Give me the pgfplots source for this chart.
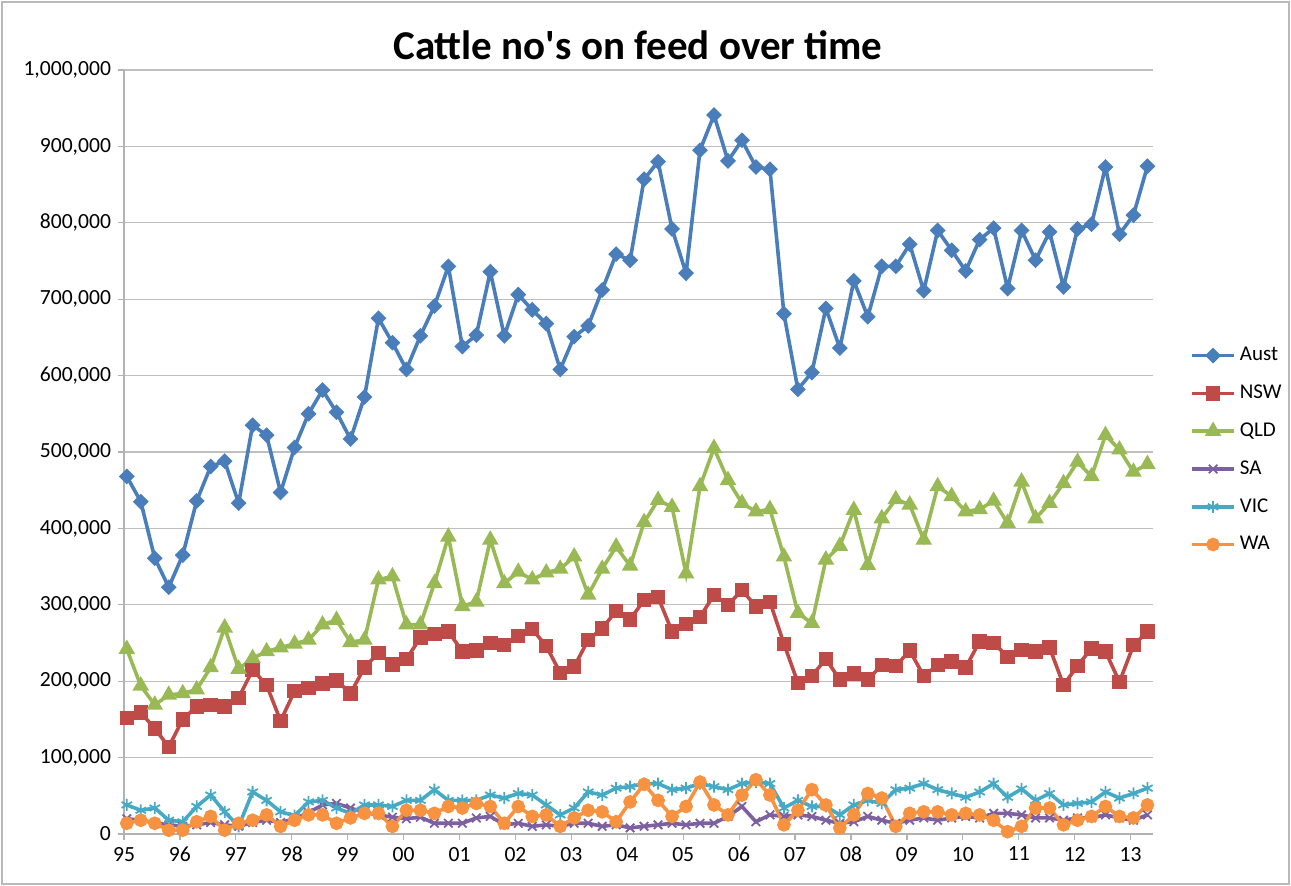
\documentclass[border=0pt]{standalone}
\usepackage{fontspec}
\setmainfont{Carlito}
\usepackage{pgfplots}
\pgfplotsset{compat=1.18}
\usepackage{pgfplotstable}

\definecolor{caust}{HTML}{4A7EBB}
\definecolor{cnsw}{HTML}{BE4B48}
\definecolor{cqld}{HTML}{98B954}
\definecolor{csa}{HTML}{7D60A0}
\definecolor{cvic}{HTML}{46AAC5}
\definecolor{cwa}{HTML}{F69240}

% quarterly, index 0 = 1995 Q1
\pgfplotstableread{
i aust nsw qld sa vic wa
0 468000 152000 242000 20000 38000 14000
1 435000 159000 194000 18000 31000 18000
2 361000 138000 169000 15000 34000 14000
3 323000 114000 182000 12000 18000 5000
4 365000 150000 184000 10000 16000 5000
5 436000 167000 189000 12000 36000 16000
6 481000 169000 218000 15000 51000 23000
7 488000 167000 270000 12000 29000 5000
8 433000 178000 216000 10000 10000 14000
9 535000 215000 230000 15000 55000 18000
10 522000 195000 239000 18000 44000 25000
11 447000 148000 244000 15000 29000 10000
12 506000 187000 249000 20000 24000 18000
13 550000 191000 254000 28000 42000 25000
14 581000 197000 274000 38000 44000 25000
15 552000 201000 280000 40000 34000 14000
16 517000 184000 251000 34000 27000 21000
17 572000 218000 254000 28000 38000 27000
18 675000 237000 333000 25000 38000 27000
19 643000 222000 337000 22000 36000 10000
20 608000 229000 274000 20000 44000 31000
21 652000 257000 274000 22000 44000 31000
22 691000 262000 328000 14000 58000 27000
23 743000 265000 389000 14000 44000 36000
24 638000 239000 298000 14000 44000 34000
25 653000 240000 304000 21000 44000 40000
26 736000 250000 385000 23000 51000 36000
27 652000 247000 328000 12000 47000 14000
28 706000 259000 343000 14000 53000 36000
29 686000 268000 333000 10000 51000 23000
30 668000 246000 342000 12000 38000 25000
31 608000 211000 347000 10000 25000 10000
32 651000 219000 363000 14000 34000 21000
33 665000 254000 313000 14000 55000 31000
34 712000 269000 347000 10000 51000 29000
35 759000 292000 376000 12000 60000 16000
36 751000 281000 351000 8000 62000 42000
37 857000 306000 408000 10000 66000 65000
38 880000 310000 437000 12000 66000 44000
39 792000 265000 428000 14000 58000 23000
40 734000 275000 341000 12000 60000 36000
41 895000 284000 455000 14000 66000 68000
42 941000 313000 505000 14000 62000 38000
43 881000 300000 463000 23000 58000 25000
44 908000 319000 433000 36000 66000 51000
45 873000 298000 422000 16000 68000 71000
46 870000 304000 425000 25000 66000 51000
47 681000 249000 363000 23000 34000 12000
48 582000 198000 289000 25000 44000 31000
49 604000 207000 276000 23000 36000 58000
50 688000 229000 359000 18000 36000 38000
51 636000 202000 377000 14000 25000 8000
52 724000 210000 424000 16000 38000 25000
53 677000 202000 352000 23000 44000 53000
54 743000 221000 413000 18000 40000 47000
55 743000 220000 438000 14000 58000 10000
56 772000 240000 431000 18000 60000 27000
57 711000 207000 385000 21000 66000 29000
58 790000 221000 455000 18000 58000 29000
59 764000 226000 442000 21000 53000 25000
60 737000 218000 422000 23000 48000 27000
61 778000 252000 425000 21000 55000 25000
62 793000 250000 436000 27000 66000 18000
63 714000 232000 407000 27000 48000 3000
64 790000 241000 461000 25000 59000 10000
65 751000 239000 413000 21000 44000 34000
66 788000 244000 433000 21000 53000 34000
67 716000 195000 459000 18000 38000 12000
68 792000 220000 487000 21000 40000 18000
69 798000 243000 468000 21000 42000 23000
70 873000 239000 522000 25000 55000 36000
71 785000 199000 503000 21000 47000 23000
72 810000 247000 474000 18000 53000 21000
73 874000 265000 484000 25000 60000 38000
}\cattle

\begin{document}
\begin{tikzpicture}
\useasboundingbox (-62pt,-26pt) rectangle (583.5pt,417pt);
\draw[gray!55, line width=0.6pt] (-61pt,-25pt) rectangle (582.5pt,416pt);
\begin{axis}[
    at={(0pt,0pt)}, anchor=south west,
    scale only axis, width=514.5pt, height=382pt,
    xmin=-0.2, xmax=73.4, ymin=0, ymax=1000000,
    xtick={-0.2,3.8,7.8,11.8,15.8,19.8,23.8,27.8,31.8,35.8,39.8,43.8,47.8,51.8,55.8,59.8,63.8,67.8,71.8},
    xticklabels={95,96,97,98,99,00,01,02,03,04,05,06,07,08,09,10,11,12,13},
    ytick={0,100000,200000,300000,400000,500000,600000,700000,800000,900000,1000000},
    scaled y ticks=false,
    yticklabel style={/pgf/number format/.cd, fixed, 1000 sep={,}},
    /pgf/number format/assume math mode=true,
    ymajorgrids, grid style={gray!50, line width=0.6pt},
    axis x line*=bottom, axis y line*=left,
    axis line style={gray!60, line width=0.6pt, -},
    tick align=outside, major tick length=3pt,
    tick style={gray!60, line width=0.6pt},
    tick label style={font=\fontsize{10.8}{13}\selectfont, black},
    every axis plot/.append style={line width=1.8pt},
    legend style={at={(axis description cs:1.03,0.648)}, anchor=north west,
        draw=none, fill=none, font=\fontsize{10.5}{12.5}\selectfont,
        row sep=6.6pt, cells={anchor=west}},
    legend image code/.code={
        \draw[mark repeat=2, mark phase=2, #1] plot coordinates {(0pt,0pt) (10.5pt,0pt) (21pt,0pt)};
    },
]
\addplot[color=caust, mark=square*, mark size=1.9pt, mark options={rotate=45, solid, fill=caust}] table[x=i, y=aust] {\cattle};
\addlegendentry{Aust}
\addplot[color=cnsw, mark=square*, mark size=2.7pt, mark options={solid, fill=cnsw}] table[x=i, y=nsw] {\cattle};
\addlegendentry{NSW}
\addplot[color=cqld, mark=triangle*, mark size=3pt, mark options={solid, fill=cqld}] table[x=i, y=qld] {\cattle};
\addlegendentry{QLD}
\addplot[color=csa, mark=x, mark size=3pt, mark options={solid, line width=0.9pt}] table[x=i, y=sa] {\cattle};
\addlegendentry{SA}
\addplot[color=cvic, mark=asterisk, mark size=3pt, mark options={solid, line width=0.9pt}] table[x=i, y=vic] {\cattle};
\addlegendentry{VIC}
\addplot[color=cwa, mark=*, mark size=2.5pt, mark options={solid, fill=cwa}] table[x=i, y=wa] {\cattle};
\addlegendentry{WA}
\end{axis}
\node[font=\bfseries\fontsize{20.5}{24}\selectfont] at (257pt,394.5pt) {Cattle no\textquotesingle s on feed over time};
\end{tikzpicture}
\end{document}
